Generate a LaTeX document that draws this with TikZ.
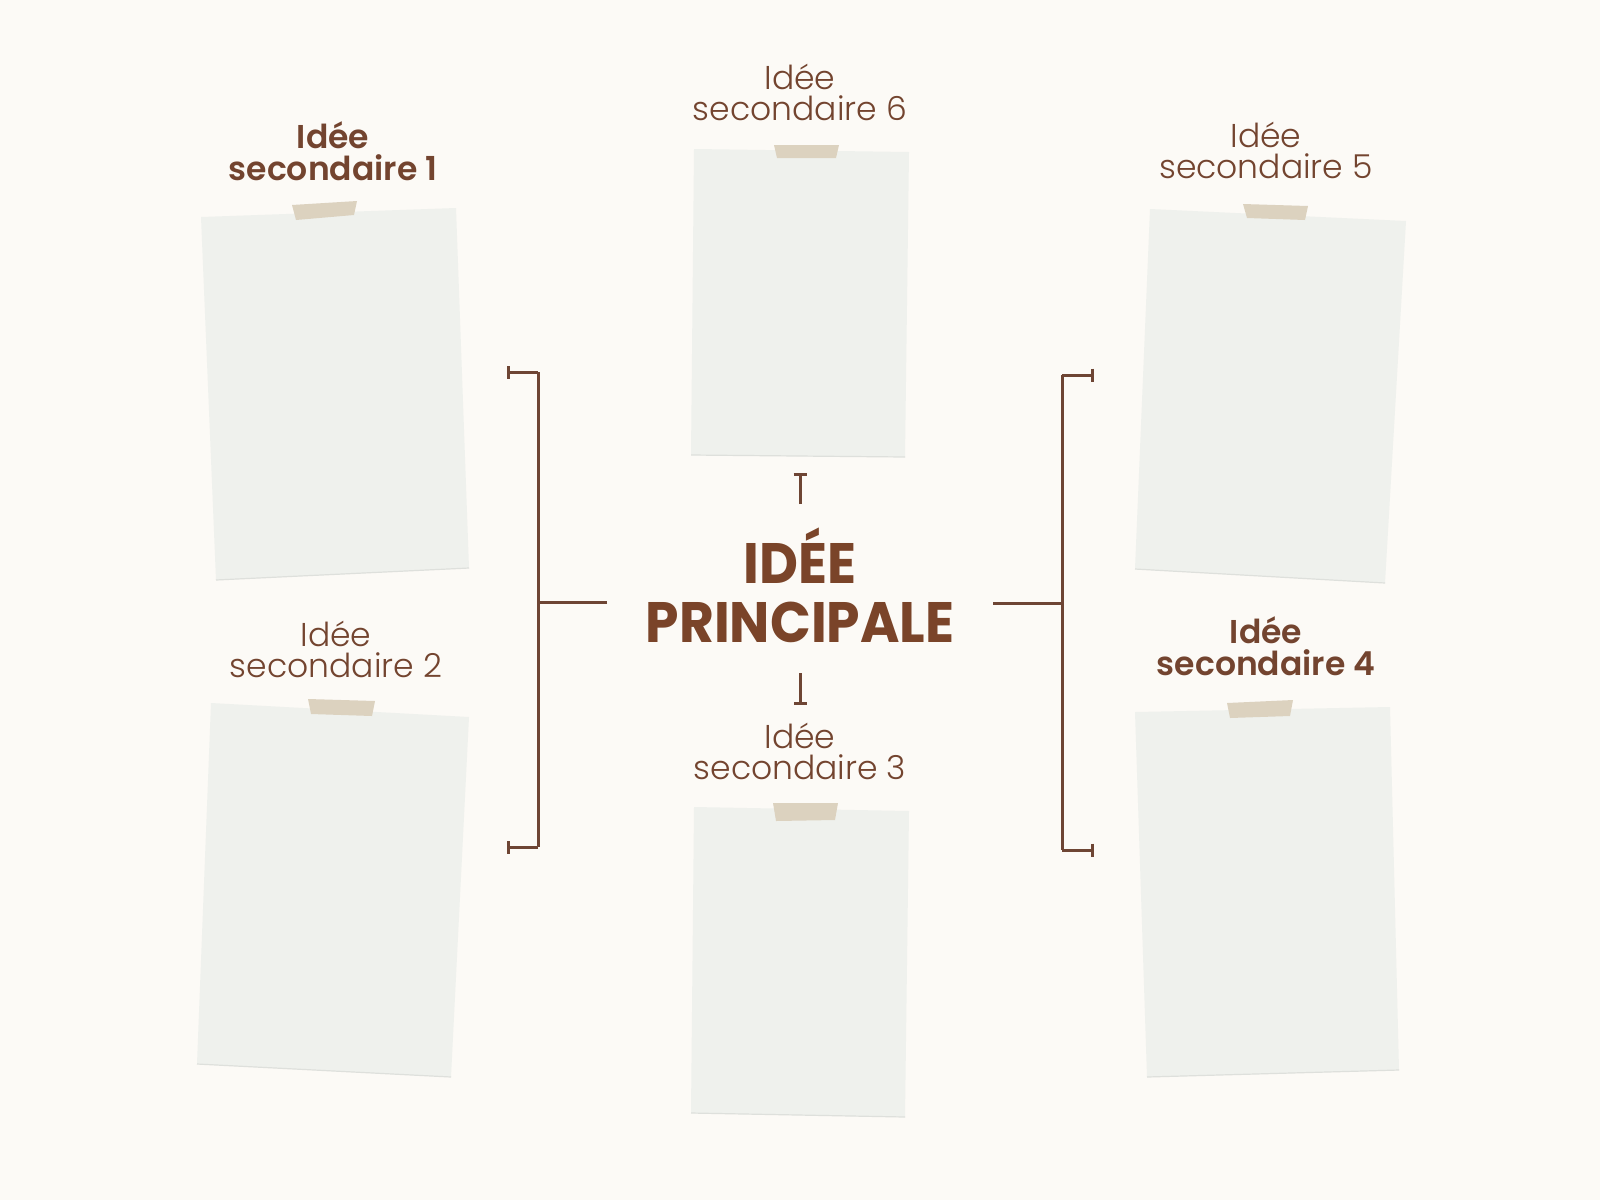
\documentclass[tikz,border=0pt]{standalone}
\usepackage{fontspec}
\usetikzlibrary{arrows.meta}
\setmainfont{Poppins}
\newfontfamily\plight{Poppins Light}
\newfontfamily\psemi{Poppins SemiBold}
\newfontfamily\pbold{Poppins Bold}
\definecolor{bgc}{HTML}{FCFAF6}
\definecolor{paperc}{HTML}{EFF1ED}
\definecolor{papere}{HTML}{DEE0DC}
\definecolor{tapec}{HTML}{DCD2BF}
\definecolor{brownt}{HTML}{73442F}
\definecolor{titlec}{HTML}{7A4429}
\definecolor{linec}{HTML}{6E4534}
\tikzset{
  paper/.style={fill=paperc},
  papershadow/.style={draw=papere, line width=1.2pt},
  tape/.style={fill=tapec},
  lbllight/.style={anchor=base, text=brownt, inner sep=0pt, font=\plight\fontsize{33}{35}\selectfont},
  lblbold/.style={anchor=base, text=brownt, inner sep=0pt, font=\psemi\fontsize{33}{35}\selectfont},
  ttl/.style={anchor=base, text=titlec, inner sep=0pt, font=\pbold\fontsize{57}{60}\selectfont},
  conn/.style={draw=linec, line width=3pt},
  barend/.style={-{Bar[width=13pt,line width=3pt]}},
}
\begin{document}
\begin{tikzpicture}[x=1pt,y=-1pt]
\fill[bgc] (0,0) rectangle (1600,1200);
\useasboundingbox (0,0) rectangle (1600,1200);

% papers
\fill[paper] (201,217) -- (456,208) -- (469,568) -- (216,580) -- cycle;
\draw[papershadow] (216,580) -- (469,568);
\fill[paper] (211,703) -- (469,717) -- (451,1077) -- (197,1064) -- cycle;
\draw[papershadow] (197,1064) -- (451,1077);
\fill[paper] (694,149) -- (909,152) -- (905,457) -- (691,455) -- cycle;
\draw[papershadow] (691,455) -- (905,457);
\fill[paper] (694,807) -- (909,811) -- (905,1117) -- (691,1113) -- cycle;
\draw[papershadow] (691,1113) -- (905,1117);
\fill[paper] (1150,209) -- (1406,221) -- (1385,583) -- (1135,569) -- cycle;
\draw[papershadow] (1135,569) -- (1385,583);
\fill[paper] (1135,712) -- (1390,707) -- (1399,1070) -- (1147,1077) -- cycle;
\draw[papershadow] (1147,1077) -- (1399,1070);

% tapes
\fill[tape] (292,205) -- (357,201) -- (354,215) -- (296,220) -- cycle;
\fill[tape] (308,699) -- (375,701) -- (372,716) -- (311,714) -- cycle;
\fill[tape] (774,145) -- (839,145) -- (836,158) -- (777,158) -- cycle;
\fill[tape] (773,803) -- (838,803) -- (835,820) -- (776,821) -- cycle;
\fill[tape] (1243,204) -- (1308,206) -- (1305,220) -- (1247,218) -- cycle;
\fill[tape] (1227,703) -- (1293,700) -- (1290,716) -- (1230,718) -- cycle;

% labels
\node[lblbold] (l1a) at (333,148) {Idée};
\node[lblbold] (l1b) at (333,180) {secondaire 1};
\node[lbllight] (l2a) at (336,646) {Idée};
\node[lbllight] (l2b) at (336,677) {secondaire 2};
\node[lbllight] (l3a) at (800,748) {Idée};
\node[lbllight] (l3b) at (800,779) {secondaire 3};
\node[lblbold] (l4a) at (1266,643) {Idée};
\node[lblbold] (l4b) at (1266,675) {secondaire 4};
\node[lbllight] (l5a) at (1266,147) {Idée};
\node[lbllight] (l5b) at (1266,178) {secondaire 5};
\node[lbllight] (l6a) at (800,89) {Idée};
\node[lbllight] (l6b) at (800,120) {secondaire 6};

% title
\node[ttl] (t1) at (800,583) {\scalebox{0.94}[1]{IDÉE}};
\node[ttl] (t2) at (800,642) {\scalebox{0.94}[1]{PRINCIPALE}};

% connector coordinates
\coordinate (lmid) at (607,602);
\coordinate (ljoin) at (538,602);
\coordinate (ltop) at (538,372);
\coordinate (lbot) at (538,847);
\coordinate (ltopend) at (507,372);
\coordinate (lbotend) at (507,847);
\coordinate (rmid) at (993,603);
\coordinate (rjoin) at (1062,603);
\coordinate (rtop) at (1062,375);
\coordinate (rbot) at (1062,850);
\coordinate (rtopend) at (1094,375);
\coordinate (rbotend) at (1094,850);
\coordinate (ua) at (800,504);
\coordinate (ub) at (800,473);
\coordinate (da) at (800,673);
\coordinate (db) at (800,705);

\draw[conn] (lmid) -- (ljoin);
\draw[conn] (ltop) -- (lbot);
\draw[conn, barend] (ltop) -- (ltopend);
\draw[conn, barend] (lbot) -- (lbotend);
\draw[conn] (rmid) -- (rjoin);
\draw[conn] (rtop) -- (rbot);
\draw[conn, barend] (rtop) -- (rtopend);
\draw[conn, barend] (rbot) -- (rbotend);
\draw[conn, barend] (ua) -- (ub);
\draw[conn, barend] (da) -- (db);
\end{tikzpicture}
\end{document}
